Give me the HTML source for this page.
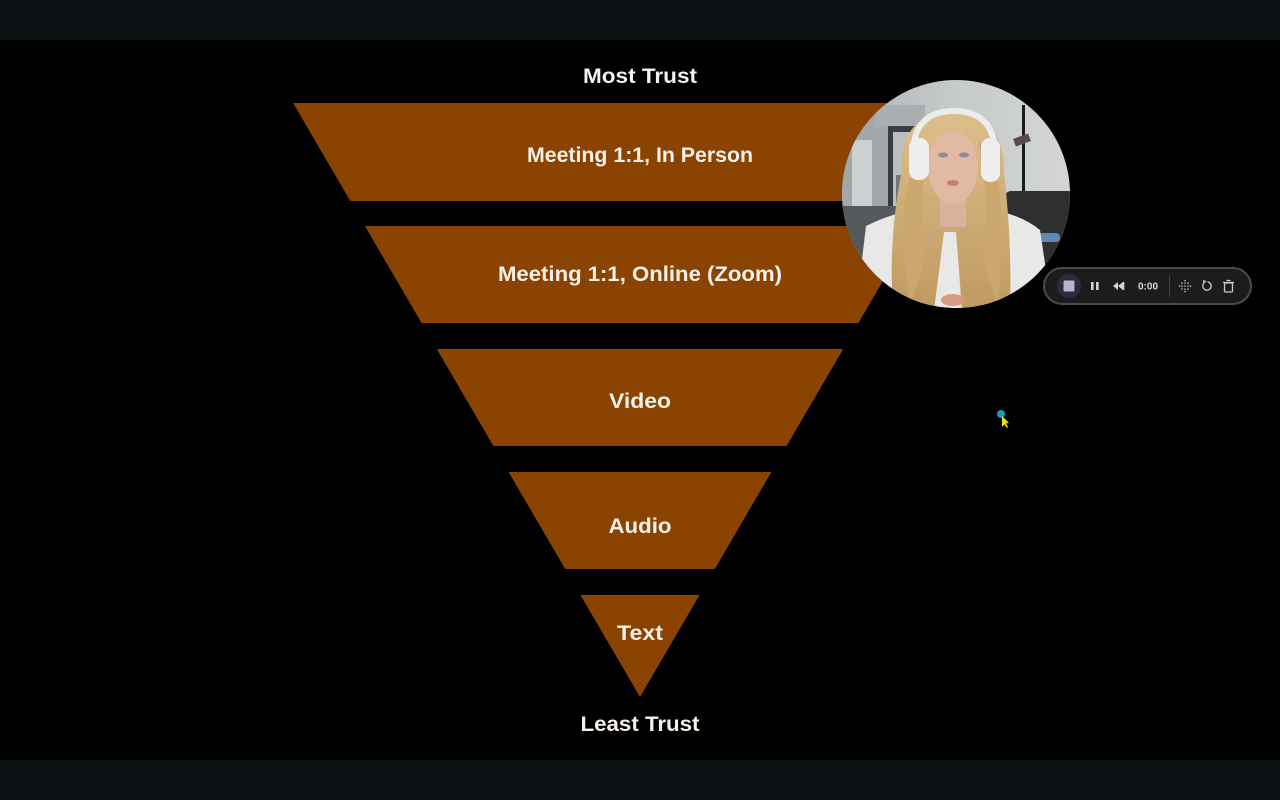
<!DOCTYPE html>
<html>
<head>
<meta charset="utf-8">
<style>
  html,body{margin:0;padding:0;background:#000;width:1280px;height:800px;overflow:hidden;}
  svg{display:block;}
  .lbl{font-family:"Liberation Sans",Arial,sans-serif;font-weight:bold;fill:#f6f1ea;}
</style>
</head>
<body>
<svg width="1280" height="800" viewBox="0 0 1280 800" xmlns="http://www.w3.org/2000/svg">
  <defs>
    <clipPath id="cam"><circle cx="956" cy="194" r="114"/></clipPath>
    <linearGradient id="wall" x1="0" y1="0" x2="1" y2="0">
      <stop offset="0" stop-color="#aeb2b4"/>
      <stop offset="0.5" stop-color="#c7cacb"/>
      <stop offset="1" stop-color="#d3d5d6"/>
    </linearGradient>
    <linearGradient id="hair" x1="0" y1="0" x2="0" y2="1">
      <stop offset="0" stop-color="#dcc08c"/>
      <stop offset="1" stop-color="#bf9a60"/>
    </linearGradient>
  </defs>

  <!-- bars -->
  <rect x="0" y="0" width="1280" height="40" fill="#0b1013"/>
  <rect x="0" y="40" width="1280" height="720" fill="#000"/>
  <rect x="0" y="760" width="1280" height="40" fill="#0b1013"/>

  <!-- funnel -->
  <g fill="#8a4300">
    <polygon points="293.1,103 986.9,103 929.7,201 350.3,201"/>
    <polygon points="364.9,226 915.1,226 858.4,323 421.6,323"/>
    <polygon points="436.8,349 843.2,349 786.6,446 493.4,446"/>
    <polygon points="508.6,472 771.4,472 714.8,569 565.2,569"/>
    <polygon points="580.4,595 699.6,595 640,697"/>
  </g>

  <!-- labels -->
  <text class="lbl" x="640" y="83" font-size="21" text-anchor="middle" textLength="114" lengthAdjust="spacingAndGlyphs">Most Trust</text>
  <text class="lbl" x="640" y="162" font-size="21" text-anchor="middle" textLength="226" lengthAdjust="spacingAndGlyphs">Meeting 1:1, In Person</text>
  <text class="lbl" x="640" y="281" font-size="21" text-anchor="middle" textLength="284" lengthAdjust="spacingAndGlyphs">Meeting 1:1, Online (Zoom)</text>
  <text class="lbl" x="640" y="408" font-size="21" text-anchor="middle" textLength="62" lengthAdjust="spacingAndGlyphs">Video</text>
  <text class="lbl" x="640" y="533" font-size="21" text-anchor="middle" textLength="63" lengthAdjust="spacingAndGlyphs">Audio</text>
  <text class="lbl" x="640" y="640" font-size="21" text-anchor="middle" textLength="46" lengthAdjust="spacingAndGlyphs">Text</text>
  <text class="lbl" x="640" y="731" font-size="21" text-anchor="middle" textLength="119" lengthAdjust="spacingAndGlyphs">Least Trust</text>

  <!-- webcam circle -->
  <g clip-path="url(#cam)">
    <rect x="840" y="78" width="232" height="232" fill="url(#wall)"/>
    <!-- hallway left -->
    <rect x="842" y="110" width="46" height="100" fill="#a3a7a9"/>
    <rect x="852" y="140" width="20" height="70" fill="#cdd0d1"/>
    <rect x="875" y="105" width="50" height="22" fill="#aaaeb0"/>
    <!-- door frame -->
    <rect x="888" y="126" width="28" height="84" fill="#3a3d3f"/>
    <rect x="893" y="132" width="18" height="74" fill="#bcbfc0"/>
    <rect x="896" y="175" width="12" height="28" fill="#72767a"/>
    <!-- floor -->
    <rect x="840" y="206" width="70" height="70" fill="#56595b"/>
    <!-- pole and sign -->
    <rect x="1022" y="105" width="3" height="88" fill="#1c1c1c"/>
    <rect x="1014" y="136" width="16" height="8" fill="#5a4a4a" transform="rotate(-20 1022 140)"/>
    <!-- sofa -->
    <rect x="1005" y="191" width="70" height="78" rx="6" fill="#2d2f31"/>
    <rect x="1034" y="233" width="26" height="9" rx="4" fill="#5a8ab8"/>
    <!-- shirt -->
    <path d="M856,310 L866,226 Q898,210 930,208 L980,208 Q1018,212 1040,230 L1052,310 Z" fill="#e8e8e6"/>
    <!-- hair back -->
    <path d="M902,170 Q898,118 952,108 Q1004,114 1004,172 Q1012,240 1010,310 L962,310 L956,232 L944,232 L934,310 L893,310 Q888,238 902,170 Z" fill="url(#hair)"/>
    <!-- neck -->
    <rect x="940" y="195" width="26" height="32" fill="#dab29c"/>
    <!-- face -->
    <ellipse cx="953" cy="167" rx="25" ry="37" fill="#e2b9a2"/>
    <ellipse cx="943" cy="155" rx="5" ry="2.5" fill="#8a8aa0"/>
    <ellipse cx="964" cy="155" rx="5" ry="2.5" fill="#8a8aa0"/>
    <ellipse cx="953" cy="183" rx="6" ry="3" fill="#c57f78"/>
    <!-- hair front strands -->
    <path d="M928,140 Q918,200 924,262 L910,305 L902,240 Q904,168 928,140 Z" fill="#cba66e"/>
    <path d="M978,140 Q990,200 984,262 L998,308 L1003,240 Q1002,168 978,140 Z" fill="#cba66e"/>
    <!-- headphones -->
    <path d="M913,162 Q910,111 954,111 Q998,111 995,162" fill="none" stroke="#ececec" stroke-width="6"/>
    <rect x="909" y="138" width="20" height="42" rx="9" fill="#eeeeee"/>
    <rect x="981" y="138" width="19" height="44" rx="9" fill="#eeeeee"/>
    <!-- hand -->
    <ellipse cx="953" cy="300" rx="12" ry="6" fill="#d99a80"/>
  </g>

  <!-- control bar -->
  <rect x="1044" y="268" width="207" height="36" rx="18" fill="#1c1c1f" stroke="#4b4b4e" stroke-width="2"/>
  <circle cx="1069" cy="286" r="12" fill="#2d2b3a"/>
  <rect x="1063.5" y="280.5" width="11" height="11" rx="1" fill="#b7b3cf"/>
  <rect x="1091" y="282" width="2.6" height="8" fill="#d4d4d4"/>
  <rect x="1096" y="282" width="2.6" height="8" fill="#d4d4d4"/>
  <polygon points="1118,282 1113,286 1118,290" fill="#d4d4d4"/>
  <polygon points="1123,282 1118,286 1123,290" fill="#d4d4d4"/>
  <rect x="1122.5" y="282" width="1.8" height="8" fill="#d4d4d4"/>
  <text x="1148" y="289.5" font-family="Liberation Sans, Arial, sans-serif" font-size="10" font-weight="bold" fill="#d6d6d6" text-anchor="middle">0:00</text>
  <rect x="1169" y="276" width="1" height="21" fill="#444"/>
  <g fill="#c8c8c8">
    <circle cx="1182" cy="283" r="0.8"/><circle cx="1185" cy="283" r="0.8"/><circle cx="1188" cy="283" r="0.8"/>
    <circle cx="1182" cy="286" r="0.8"/><circle cx="1185" cy="286" r="0.8"/><circle cx="1188" cy="286" r="0.8"/>
    <circle cx="1182" cy="289" r="0.8"/><circle cx="1185" cy="289" r="0.8"/><circle cx="1188" cy="289" r="0.8"/>
    <circle cx="1185" cy="280.5" r="0.8"/><circle cx="1185" cy="291.5" r="0.8"/>
    <circle cx="1179.5" cy="286" r="0.8"/><circle cx="1190.5" cy="286" r="0.8"/>
  </g>
  <path d="M1204,283 A4.2,4.2 0 1 0 1207.5,281.8" fill="none" stroke="#c8c8c8" stroke-width="1.3"/>
  <polygon points="1203,280 1206.5,281 1203.5,284" fill="#c8c8c8"/>
  <g fill="none" stroke="#c8c8c8" stroke-width="1.3">
    <rect x="1224.5" y="283" width="8" height="9" rx="1"/>
    <line x1="1223" y1="282.5" x2="1234" y2="282.5"/>
    <line x1="1226.5" y1="280.5" x2="1230.5" y2="280.5"/>
  </g>

  <!-- cursor -->
  <circle cx="1001" cy="414" r="4" fill="#1b9bb5"/>
  <polygon points="1002,416 1002,427 1004.5,424.5 1007,428 1008,427 1006,423.5 1009,423" fill="#e8e21a"/>
</svg>
</body>
</html>
